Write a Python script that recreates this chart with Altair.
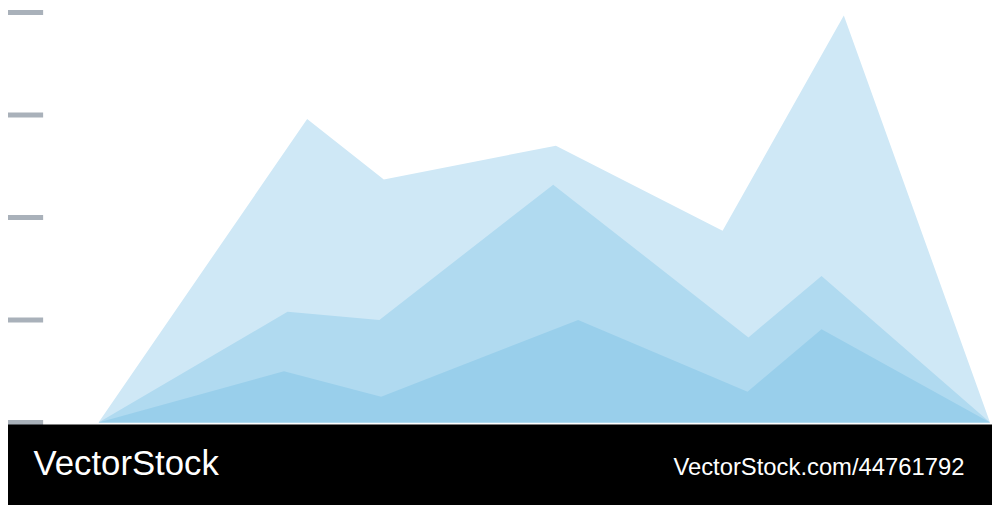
import altair as alt
import pandas as pd

# --- data (x in % of the period, y in tick units) ---
light_x = [0, 23.4, 32.0, 51.3, 70.0, 83.6, 100]
light_y = [0, 2.96, 2.37, 2.70, 1.87, 3.97, 0]

mid_x = [0, 21.2, 31.5, 51.0, 72.9, 81.1, 100]
mid_y = [0, 1.08, 1.00, 2.32, 0.83, 1.43, 0]

dark_x = [0, 20.8, 31.7, 53.8, 72.8, 81.1, 100]
dark_y = [0, 0.50, 0.25, 1.00, 0.30, 0.91, 0]

tick_values = [0, 1, 2, 3, 4]

brand_left = "VectorStock"
brand_right = "VectorStock.com/44761792"

W, H = 992, 497
SX, SY = W / 1000.0, H / 505.0

xscale = alt.Scale(domain=[-10.155, 100.221], nice=False, zero=False)
yscale = alt.Scale(domain=[-0.7857, 4.0238], nice=False, zero=False)


def area(xs, ys, color):
    df = pd.DataFrame({"pos": xs, "val": ys, "base": [0] * len(xs)})
    return alt.Chart(df).mark_area(color=color, opacity=1, interpolate="linear").encode(
        x=alt.X("pos:Q", scale=xscale, axis=None),
        y=alt.Y("val:Q", scale=yscale, axis=None, stack=None),
        y2=alt.Y2("base:Q"),
    )


ticks = alt.Chart(pd.DataFrame({"v": tick_values})).mark_rule(
    color="#a9b1ba", strokeWidth=5
).encode(
    y=alt.Y("v:Q", scale=yscale, axis=None),
    x=alt.value(0),
    x2=alt.value(35.7 * SX),
)

band = alt.Chart(pd.DataFrame({"a": [0]})).mark_rect(color="#000000").encode(
    x=alt.value(0),
    x2=alt.value(W),
    y=alt.value(424.5 * SY),
    y2=alt.value(H + 2),
)

txt_left = alt.Chart(pd.DataFrame({"t": [brand_left]})).mark_text(
    color="#ffffff", font="Liberation Sans", fontSize=35, align="left", baseline="alphabetic"
).encode(text="t:N", x=alt.value(26 * SX), y=alt.value(476.7 * SY))

txt_right = alt.Chart(pd.DataFrame({"t": [brand_right]})).mark_text(
    color="#ffffff", font="Liberation Sans", fontSize=24, align="right", baseline="alphabetic"
).encode(text="t:N", x=alt.value(972 * SX), y=alt.value(476 * SY))

chart = alt.layer(
    area(light_x, light_y, "#cfe8f6"),
    area(mid_x, mid_y, "#b0daf0"),
    area(dark_x, dark_y, "#99cfeb"),
    ticks,
    band,
    txt_left,
    txt_right,
).properties(
    width=W, height=H, autosize=alt.AutoSizeParams(type="none"), padding=0
).configure_view(stroke=None)

chart.save("out.html", embed_options={"renderer": "svg", "actions": False})
